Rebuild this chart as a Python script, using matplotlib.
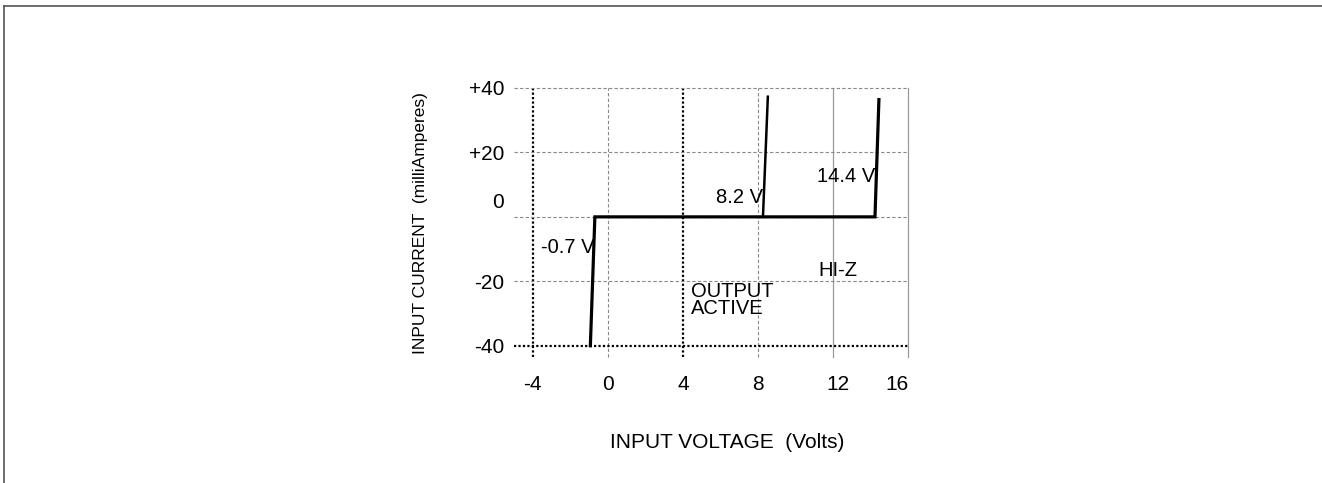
"""Input V-I characteristic of a tri-state input pin."""

import matplotlib

matplotlib.use("Agg")
import matplotlib.pyplot as plt
from matplotlib.lines import Line2D
from matplotlib.transforms import ScaledTranslation

plt.rcParams["font.family"] = ["Liberation Sans", "DejaVu Sans"]

# main characteristic: clamp diode at -0.7 V, hi-z plateau, clamp at 14.4 V
main_v = [-0.93, -0.69, 14.24, 14.45]
main_i = [-40, 0, 0, 36.4]

# second branch breaking down at 8.2 V
branch_v = [8.27, 8.53]
branch_i = [0, 37.3]

x_ticks = [-4, 0, 4, 8, 12, 16]
x_labels = ["-4", "0", "4", "8", "12", "16"]
y_ticks = [40, 20, 0, -20, -40]
y_labels = ["+40", "+20", "0", "-20", "-40"]

# grid line styles per position
x_grid = {-4: "dot", 0: "dash", 4: "dot", 8: "dash", 12: "solid", 16: "solid"}
y_grid = {40: "dash", 20: "dash", 0: "dash", -20: "dash", -40: "dot"}

notes = [
    (-0.69, -9.6, "-0.7 V", "right"),
    (8.27, 5.9, "8.2 V", "right"),
    (14.24, 12.4, "14.4 V", "right"),
    (11.2, -16.5, "HI-Z", "left"),
    (4.43, -25.8, "OUTPUT\nACTIVE", "left"),
]

XMIN, XMAX = -5.0, 16.0
YMIN, YMAX = -43.5, 40.0

W, H = 1322, 483
fig = plt.figure(figsize=(W / 100, H / 100), dpi=100)
ax = fig.add_axes([514 / W, 1 - 357 / H, (908 - 514) / W, (357 - 88) / H])
ax.set_xlim(XMIN, XMAX)
ax.set_ylim(YMIN, YMAX)
for s in ax.spines.values():
    s.set_visible(False)

styles = {
    "dot": dict(color="black", lw=1.6, ls=(0, (1, 1))),
    "dash": dict(color="#888888", lw=0.8, ls=(0, (3, 2))),
    "solid": dict(color="#999999", lw=0.9, ls="-"),
}
for xv, st in x_grid.items():
    ax.plot([xv, xv], [YMIN, YMAX], clip_on=False, zorder=1, **styles[st])
for yv, st in y_grid.items():
    ax.plot([XMIN, XMAX], [yv, yv], clip_on=False, zorder=1, **styles[st])

ax.plot(main_v, main_i, color="black", lw=2.3, solid_joinstyle="miter", zorder=3)
ax.plot(branch_v, branch_i, color="black", lw=1.8, zorder=3)

for xv, yv, txt, ha in notes:
    ax.text(xv, yv, txt, ha=ha, va="center", fontsize=14.5, linespacing=0.9)

ax.set_xticks(x_ticks, x_labels, fontsize=15)
ax.set_yticks(y_ticks, y_labels, fontsize=15)
ax.tick_params(axis="x", length=0, pad=13)
ax.tick_params(axis="y", length=0, pad=7)


def nudge(lab, dx_px, dy_px):
    lab.set_transform(lab.get_transform()
                      + ScaledTranslation(dx_px / 100, dy_px / 100, fig.dpi_scale_trans))


for lab in ax.get_yticklabels():
    if lab.get_text() == "0":
        nudge(lab, 0, 16)
for lab in ax.get_xticklabels():
    if lab.get_text() == "12":
        nudge(lab, 5, 0)
    elif lab.get_text() == "16":
        nudge(lab, -11, 0)

fig.text(727 / W, 1 - 442 / H, "INPUT VOLTAGE  (Volts)", ha="center", va="center", fontsize=15)
fig.text(420 / W, 1 - 223 / H, "INPUT CURRENT  (milliAmperes)", ha="center", va="center",
         rotation=90, fontsize=12.5)

# page frame (top and left edges)
fig.add_artist(Line2D([4 / W, 1], [1 - 6 / H, 1 - 6 / H], color="#555555", lw=1.2))
fig.add_artist(Line2D([4 / W, 4 / W], [0, 1 - 6 / H], color="#555555", lw=1.2))

fig.savefig("out.png", dpi=100)
